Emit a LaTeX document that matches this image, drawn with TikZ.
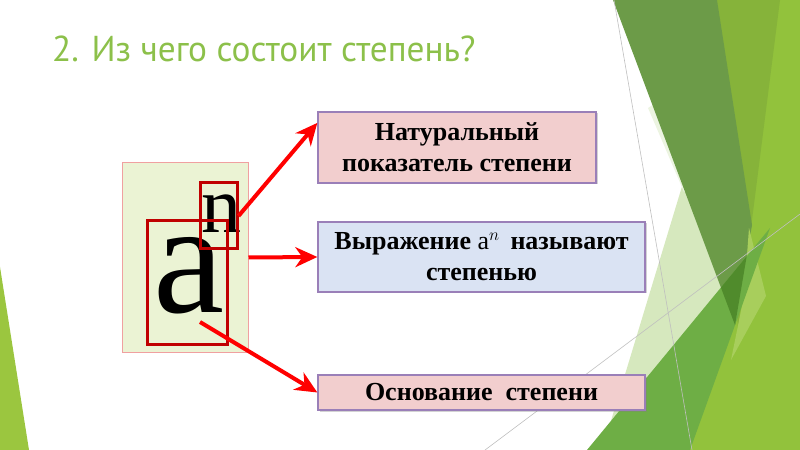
\documentclass[tikz,border=0pt]{standalone}
\usepackage{fontspec}
\setmainfont{Liberation Serif}
\newfontfamily\titlefont[FakeStretch=0.98]{PT Sans}
\usetikzlibrary{arrows.meta,shadows}
\definecolor{titlegreen}{RGB}{140,192,74}
\definecolor{limefacet}{RGB}{146,194,60}
\definecolor{midfacet}{RGB}{134,179,58}
\definecolor{darkfacet}{RGB}{108,155,72}
\definecolor{palefacet}{RGB}{214,232,190}
\definecolor{sliverfacet}{RGB}{236,244,225}
\definecolor{greenfacet}{RGB}{110,174,69}
\definecolor{deepfacet}{RGB}{80,139,44}
\definecolor{wedgefacet}{RGB}{168,206,92}
\definecolor{cornerfacet}{RGB}{155,198,63}
\definecolor{framefill}{RGB}{235,243,212}
\definecolor{frameline}{RGB}{240,160,160}
\definecolor{boxred}{RGB}{192,0,0}
\definecolor{pinkfill}{RGB}{242,206,206}
\definecolor{bluefill}{RGB}{218,227,243}
\definecolor{boxline}{RGB}{154,127,184}

\begin{document}
\begin{tikzpicture}[x=1bp,y=-1bp,
		hair/.style={draw=black!25,line width=0.6bp},
		redbox/.style={draw=boxred,line width=3bp,inner sep=0pt},
		callout/.style={draw=boxline,line width=1.3bp,align=center,inner sep=0pt,
			font=\bfseries\fontsize{26bp}{31bp}\selectfont,
			drop shadow={shadow xshift=1.5bp,shadow yshift=-1.5bp,opacity=0.35}},
		pointer/.style={draw=red,line width=4bp,-{Stealth[length=22bp,width=20bp,inset=7bp]}}]
				\useasboundingbox (0,0) rectangle (800,450);
				
				\fill[cornerfacet] (0,267) -- (0,450) -- (29,450) -- cycle;
				\fill[limefacet] (717,0) -- (800,0) -- (800,450) -- (680,450) -- cycle;
				\fill[midfacet] (717,0) -- (780,0) -- (738,330) -- cycle;
				\fill[palefacet] (690,160) -- (735,322) -- (600,457) -- cycle;
				\fill[sliverfacet] (648,108) -- (684,192) -- (700,192) -- (660,100) -- cycle;
				\fill[darkfacet] (613,0) -- (717,0) -- (752,225) -- (735,325) -- cycle;
				\fill[wedgefacet] (749,228) -- (766,296) -- (731,360) -- (744,296) -- cycle;
				\fill[greenfacet] (587,450) -- (770,228) -- (690,450) -- cycle;
				\begin{scope}
					\clip (613,0) -- (717,0) -- (752,225) -- (735,325) -- cycle;
					\fill[deepfacet] (587,450) -- (770,228) -- (690,450) -- cycle;
				\end{scope}
				\draw[hair] (614,0) -- (692,450);
				\draw[hair] (485,450) -- (800,214);
				
				\node[anchor=base west,text=titlegreen,inner sep=0pt,
					font=\titlefont\fontsize{36bp}{40bp}\selectfont] (title) at (52,62) {2. Из чего состоит степень?};
				
				\node[draw=frameline,fill=framefill,line width=1bp,minimum width=126bp,minimum height=189bp] (frame) at (185,257.5) {};
				\node[anchor=base west,inner sep=0pt,font=\fontsize{160bp}{160bp}\selectfont] (base) at (153,313) {a};
				\node[anchor=base west,inner sep=0pt,font=\fontsize{80bp}{80bp}\selectfont] (power) at (201,233) {n};
				\node[redbox,minimum width=80bp,minimum height=123bp] (abox) at (187,282.5) {};
				\node[redbox,minimum width=37bp,minimum height=66bp] (nbox) at (218.5,216) {};
				\coordinate (atail) at (200,322);
				
				\node[callout,fill=pinkfill,minimum width=278bp,minimum height=71bp] (natural) at (457,147.5) {Натуральный\\показатель степени};
				\node[callout,fill=bluefill,minimum width=327bp,minimum height=70bp] (expr) at (481.5,257) {Выражение $\mathrm{a}^{n}$\, называют\\степенью};
				\node[callout,fill=pinkfill,minimum width=327bp,minimum height=35bp] (basis) at (481.5,392.5) {Основание \ степени};
				
				\draw[pointer] (nbox.east) -- (natural.170);
				\draw[pointer] (frame.east) -- (expr.west);
				\draw[pointer] (atail) -- (basis.west);
			\end{tikzpicture}
\end{document}
